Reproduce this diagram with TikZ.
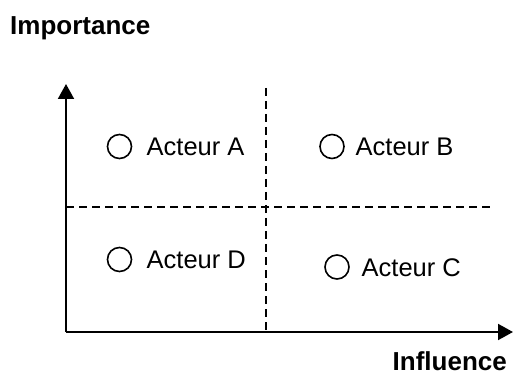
\documentclass[tikz,border=0pt]{standalone}
\usepackage{fontspec}
\setmainfont{Liberation Sans}
\usetikzlibrary{arrows.meta}
\begin{document}
\begin{tikzpicture}[x=1pt,y=-1pt,
  axis/.style={line width=2pt,-{Triangle[width=16pt,length=15pt]}},
  divider/.style={line width=1.6pt,dash pattern=on 8pt off 5pt},
  marker/.style={circle,draw,line width=1.6pt,minimum size=24pt,inner sep=0pt},
  lbl/.style={anchor=base west,inner sep=0pt,font=\fontsize{25.5}{30}\selectfont},
  title/.style={inner sep=0pt,font=\fontsize{26}{31}\selectfont\bfseries}]
\useasboundingbox (0,0) rectangle (514,374);
\coordinate (o) at (66,332);
\coordinate (ytop) at (66,84);
\coordinate (xend) at (513,332);
\coordinate (vtop) at (266,88);
\coordinate (vbot) at (266,332);
\coordinate (hl) at (66,207);
\coordinate (hr) at (494,207);
\draw[divider] (vtop) -- (vbot);
\draw[divider] (hl) -- (hr);
\draw[axis] (o) -- (ytop);
\draw[axis] (o) -- (xend);
\node[title,anchor=base west] (imp) at (10,35) {Importance};
\node[title,anchor=base east] (inf) at (507,370) {Influence};
\node[marker] (ca) at (119.5,146.5) {};
\node[lbl] (ta) at (146.5,156) {Acteur A};
\node[marker] (cb) at (332,146.5) {};
\node[lbl] (tb) at (355.5,156) {Acteur B};
\node[marker] (cd) at (119.5,259.5) {};
\node[lbl] (td) at (146.5,269) {Acteur D};
\node[marker] (cc) at (337,267) {};
\node[lbl] (tc) at (361.5,276.5) {Acteur C};
\end{tikzpicture}
\end{document}
